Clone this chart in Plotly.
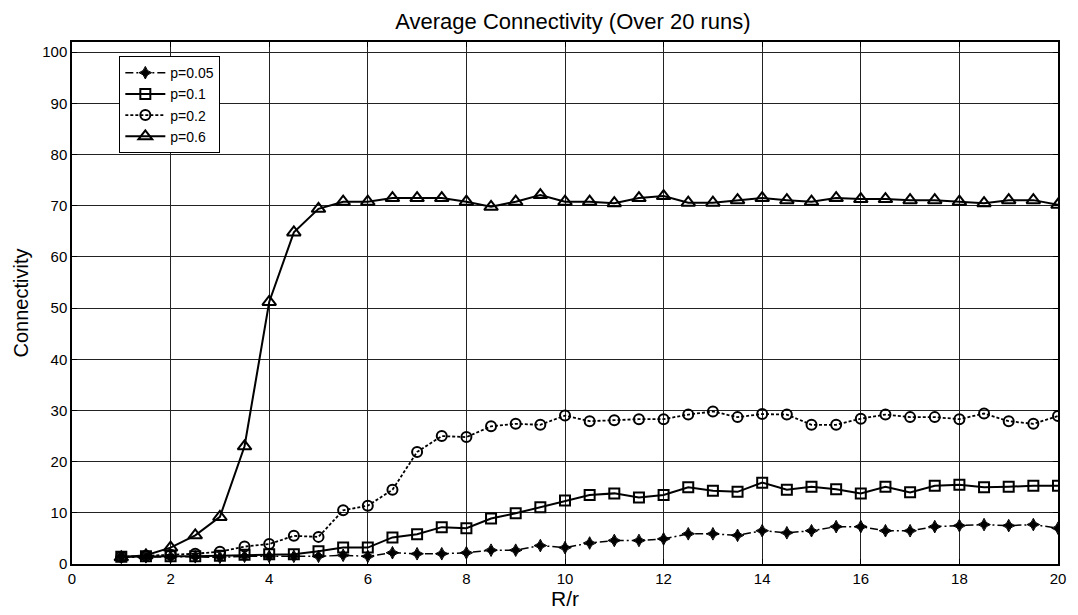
import plotly.graph_objects as go

R = [1, 1.5, 2, 2.5, 3, 3.5, 4, 4.5, 5, 5.5, 6, 6.5, 7, 7.5, 8, 8.5, 9, 9.5, 10,
     10.5, 11, 11.5, 12, 12.5, 13, 13.5, 14, 14.5, 15, 15.5, 16, 16.5, 17, 17.5,
     18, 18.5, 19, 19.5, 20]

p005 = [1.3, 1.4, 1.4, 1.4, 1.3, 1.5, 1.5, 1.5, 1.5, 1.7, 1.5, 2.2, 2.0, 2.0, 2.2,
        2.7, 2.7, 3.6, 3.2, 4.1, 4.6, 4.6, 4.9, 5.9, 5.9, 5.6, 6.5, 6.1, 6.5, 7.3,
        7.3, 6.5, 6.5, 7.3, 7.5, 7.7, 7.5, 7.7, 7.0]
p01 = [1.4, 1.5, 1.5, 1.5, 1.6, 1.8, 1.9, 1.9, 2.5, 3.2, 3.2, 5.2, 5.8, 7.2, 7.0,
       8.9, 9.9, 11.1, 12.4, 13.5, 13.8, 13.0, 13.5, 15.0, 14.3, 14.1, 15.9, 14.5,
       15.1, 14.6, 13.8, 15.1, 14.0, 15.3, 15.5, 15.0, 15.1, 15.3, 15.3]
p02 = [1.4, 1.6, 1.8, 2.0, 2.4, 3.4, 3.9, 5.5, 5.3, 10.5, 11.4, 14.5, 21.9, 25.0,
       24.8, 26.9, 27.4, 27.2, 29.0, 27.9, 28.1, 28.3, 28.3, 29.2, 29.8, 28.7, 29.3,
       29.2, 27.2, 27.2, 28.4, 29.2, 28.7, 28.7, 28.3, 29.4, 27.9, 27.4, 28.9]
p06 = [1.3, 1.7, 3.2, 5.6, 9.2, 23.0, 51.2, 64.8, 69.4, 70.8, 70.8, 71.5, 71.5, 71.5,
       70.8, 69.8, 70.8, 72.1, 70.8, 70.8, 70.5, 71.5, 71.9, 70.6, 70.6, 71.1, 71.5,
       71.1, 70.8, 71.5, 71.3, 71.3, 71.1, 71.1, 70.8, 70.5, 71.1, 71.1, 70.2]

names = ["p=0.05", "p=0.1", "p=0.2", "p=0.6"]
x_ticks = [0, 2, 4, 6, 8, 10, 12, 14, 16, 18, 20]
y_ticks = [0, 10, 20, 30, 40, 50, 60, 70, 80, 90, 100]

FONT = "Liberation Sans, Arial, sans-serif"

# page body has an 8px default margin; figure is sized to compensate
W, H = 1070, 607

fig = go.Figure()
fig.add_trace(go.Scatter(
    x=R, y=p005, name=names[0], mode="lines+markers",
    line=dict(color="black", width=1.5, dash="8px,3px,2px,3px"),
    marker=dict(symbol="star-diamond", size=9, color="black",
                line=dict(color="black", width=1))))
fig.add_trace(go.Scatter(
    x=R, y=p01, name=names[1], mode="lines+markers",
    line=dict(color="black", width=2),
    marker=dict(symbol="square-open", size=10, color="black",
                line=dict(color="black", width=2))))
fig.add_trace(go.Scatter(
    x=R, y=p02, name=names[2], mode="lines+markers",
    line=dict(color="black", width=1.8, dash="3px,2px"),
    marker=dict(symbol="circle-open", size=10, color="black",
                line=dict(color="black", width=2))))
fig.add_trace(go.Scatter(
    x=R, y=p06, name=names[3], mode="lines+markers",
    line=dict(color="black", width=2),
    marker=dict(symbol="triangle-up-open", size=12, color="black",
                line=dict(color="black", width=2))))

fig.update_layout(
    width=W, height=H,
    margin=dict(l=61, r=17, t=34, b=48),
    paper_bgcolor="white", plot_bgcolor="white",
    font=dict(family=FONT, color="black", size=15),
    title=dict(text="Average Connectivity (Over 20 runs)", x=0.528, xanchor="center",
               y=1 - 13 / H, yanchor="middle", yref="container",
               font=dict(size=22, family=FONT, color="black")),
    showlegend=True,
    legend=dict(x=0.048, y=0.973, xanchor="left", yanchor="top",
                bgcolor="white", bordercolor="black", borderwidth=1,
                font=dict(size=14, family=FONT, color="black"),
                tracegroupgap=0, itemwidth=40),
    xaxis=dict(range=[0, 20], tickvals=x_ticks, ticktext=[str(v) for v in x_ticks],
               showgrid=True, gridcolor="#222", gridwidth=1,
               showline=True, linecolor="black", linewidth=1.5, mirror="ticks",
               ticks="inside", ticklen=5, tickcolor="black",
               zeroline=False, tickfont=dict(size=15),
               title=dict(text="R/r", font=dict(size=21), standoff=2)),
    yaxis=dict(range=[0, 102], tickvals=y_ticks, ticktext=[str(v) for v in y_ticks],
               showgrid=True, gridcolor="#222", gridwidth=1,
               showline=True, linecolor="black", linewidth=1.5, mirror="ticks",
               ticks="inside", ticklen=5, tickcolor="black",
               zeroline=False, tickfont=dict(size=15),
               title=dict(text="Connectivity", font=dict(size=20), standoff=8)),
)

fig.write_html("out.html")
